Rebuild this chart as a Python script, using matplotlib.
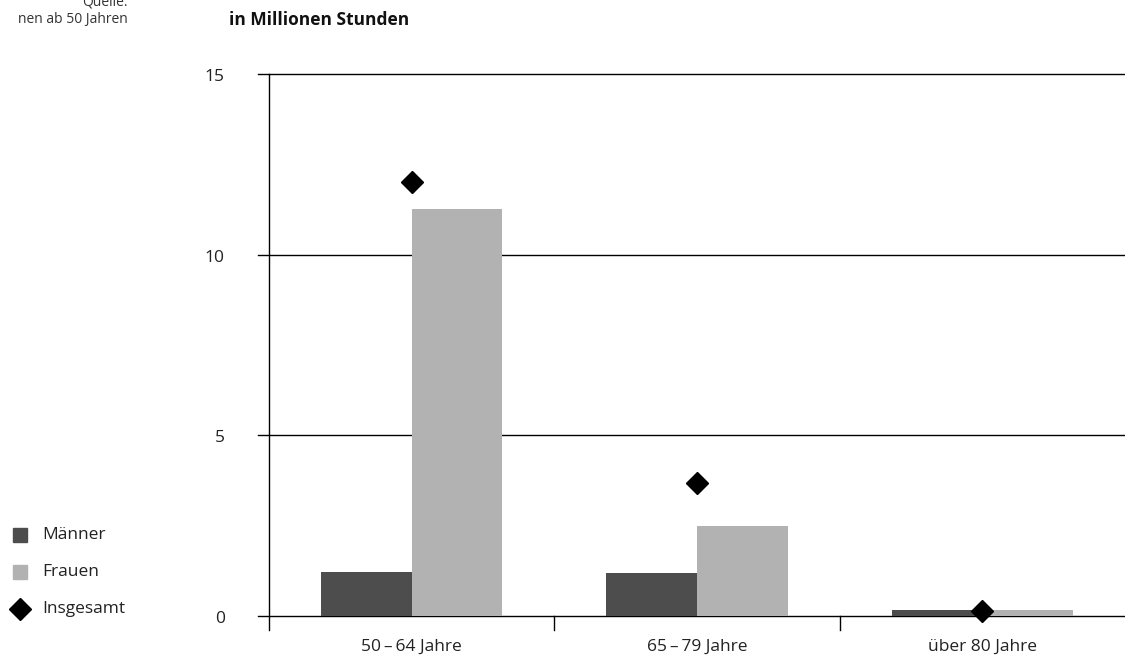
import numpy as np
import matplotlib
matplotlib.use("Agg")
import matplotlib.pyplot as plt

# data
categories = ["50\u2009–\u200964 Jahre", "65\u2009–\u200979 Jahre", "über 80 Jahre"]
maenner = [1.22, 1.19, 0.17]
frauen = [11.26, 2.49, 0.17]
insgesamt = [12.0, 3.68, 0.15]
y_ticks = [0, 5, 10, 15]

C_DARK = "#4d4d4d"
C_LIGHT = "#b2b2b2"

plt.rcParams["font.family"] = ["Open Sans", "DejaVu Sans"]

fig = plt.figure(figsize=(11.25, 6.61), dpi=100)
ax = fig.add_axes([269 / 1125, 1 - 616 / 661, (1125 - 269) / 1125, (616 - 74) / 661])

x = np.arange(len(categories))
w = 0.318
ax.bar(x - w / 2, maenner, width=w, color=C_DARK, zorder=2)
ax.bar(x + w / 2, frauen, width=w, color=C_LIGHT, zorder=2)
ax.plot(x, insgesamt, linestyle="none", marker="D", markersize=11,
        color="black", zorder=3, clip_on=False)

ax.set_xlim(-0.5, len(categories) - 0.5)
ax.set_ylim(0, 15)

# horizontal gridlines extend a bit to the left of the axis
for v in y_ticks:
    ax.plot([-0.54, len(categories) - 0.5], [v, v], color="black", lw=1,
            clip_on=False, zorder=1)
    ax.text(-0.655, v - 0.08, str(v), ha="right", va="center", fontsize=12.5,
            color="#222222")

# y axis line extends below zero
ax.plot([-0.5, -0.5], [-0.4, 15], color="black", lw=1, clip_on=False, zorder=4)
# category separators below axis
for b in np.arange(0.5, len(categories) - 1, 1.0):
    ax.plot([b, b], [0, -0.4], color="black", lw=1, clip_on=False)

for i, c in enumerate(categories):
    ax.text(i, -0.85, c, ha="center", va="center", fontsize=12.5, color="#222222")

for s in ax.spines.values():
    s.set_visible(False)
ax.set_xticks([])
ax.set_yticks([])

fig.text(229 / 1125, 1 - 20 / 661, "in Millionen Stunden", ha="left", va="center",
         fontsize=12.5, fontweight="bold", color="#111111")
fig.text(128 / 1125, 1 - 2 / 661, "Quelle:", ha="right", va="center",
         fontsize=10, color="#333333")
fig.text(128 / 1125, 1 - 20 / 661, "nen ab 50 Jahren", ha="right", va="center",
         fontsize=10, color="#333333")

# legend drawn by hand
legend_items = [("Männer", C_DARK, "s"), ("Frauen", C_LIGHT, "s"), ("Insgesamt", "black", "D")]
for k, (lab, col, mk) in enumerate(legend_items):
    yy = 1 - (535 + k * 37) / 661
    fig.lines.append(plt.Line2D([20 / 1125], [yy], marker=mk, color=col,
                                markersize=10 if mk == "s" else 11,
                                linestyle="none", transform=fig.transFigure))
    fig.text(42 / 1125, yy, lab, ha="left", va="center", fontsize=12.5,
             color="#222222")

fig.savefig("out.png", dpi=100)
